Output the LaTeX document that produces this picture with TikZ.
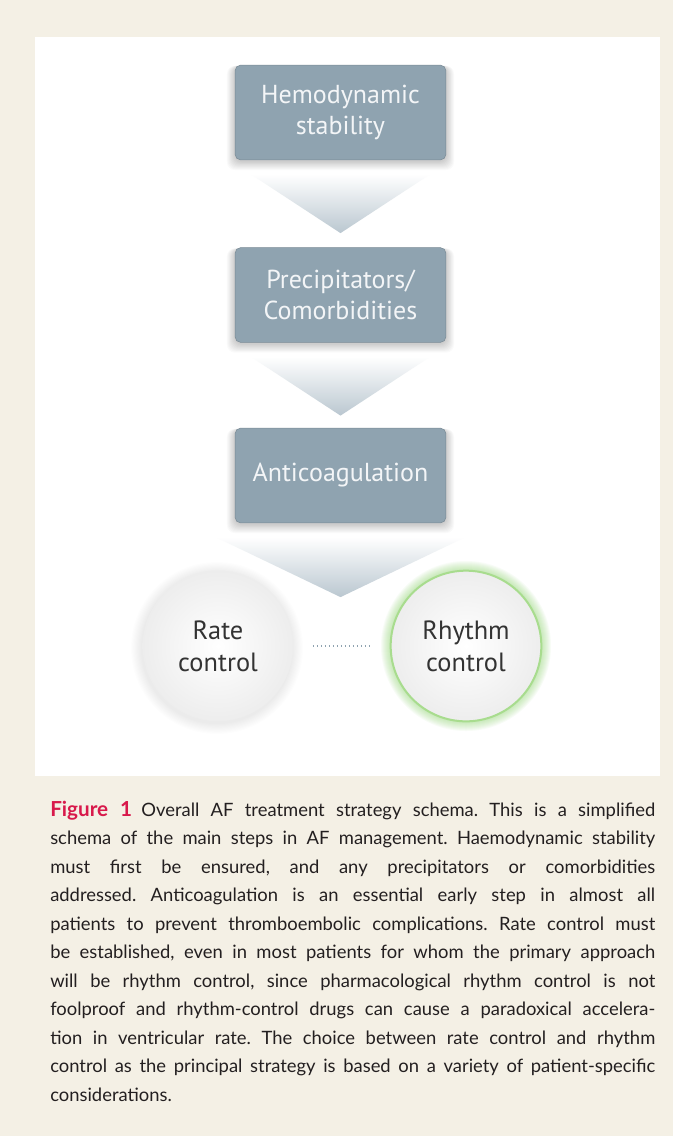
\documentclass[tikz,border=0pt]{standalone}
\usepackage{fontspec}
\setmainfont{Lato}
\newfontfamily\diagfont{PT Sans}
\usetikzlibrary{calc,shapes.geometric}
\definecolor{pagebg}{HTML}{F4F0E5}
\definecolor{boxc}{HTML}{8FA3B0}
\definecolor{boxtxt}{HTML}{F3F5F7}
\definecolor{trib}{HTML}{BAC7D0}
\definecolor{circtxt}{HTML}{333333}
\definecolor{glow}{HTML}{7FD05A}
\definecolor{ringc}{HTML}{A8DC8E}
\definecolor{dotc}{HTML}{8FA3B0}
\definecolor{figred}{HTML}{D8194B}
\definecolor{captxt}{HTML}{231F20}
\pgfdeclarelayer{bgl}
\pgfdeclarelayer{shd}
\pgfsetlayers{bgl,shd,main}
\tikzset{
  stepbox/.style={draw=boxc!85!black, line width=0.4pt, fill=boxc, rounded corners=4pt,
    minimum width=158pt, minimum height=71pt, inner sep=0pt, align=center,
    text=boxtxt, font=\diagfont\fontsize{19.5}{23.5}\selectfont},
  choice/.style={circle, minimum size=113pt, inner sep=0pt, align=center,
    text=circtxt, font=\diagfont\fontsize{19.8}{24}\selectfont,
    shading=radial, inner color=white, outer color=black!7},
  tri/.style={top color=white, bottom color=trib},
}
\begin{document}
\begin{tikzpicture}[x=0.75pt,y=-0.75pt]
\begin{pgfonlayer}{bgl}
\fill[pagebg] (0,0) rectangle (673,1136);
\fill[white] (35,37) rectangle (660,776);
\end{pgfonlayer}
\useasboundingbox (0,0) rectangle (673,1136);

% boxes
\node[stepbox] (b1) at (340.5,112.5) {Hemodynamic\\stability};
\node[stepbox] (b2) at (340.5,295) {Precipitators/\\Comorbidities};
\node[stepbox] (b3) at (340.5,475.5) {Anticoagulation};

% circles
\node[choice] (rate) at (218,646) {Rate\\control};
\node[choice, draw=ringc, line width=1.5pt] (rhythm) at (466,646) {Rhythm\\control};

% dotted link
\draw[dotc, dotted, line width=1pt, shorten <=14.5pt, shorten >=14.5pt] (rate) -- (rhythm);

\begin{pgfonlayer}{shd}
  % box shadows
  \foreach \n in {b1,b2,b3}{
    \foreach \k in {1,...,10}{
      \fill[black, opacity=0.018, rounded corners=6pt]
        ($(\n.south west)+(-0.8*\k,1+0.9*\k)$) rectangle ($(\n.north east)+(0.8*\k,1)$);
    }
  }
  % arrows (triangles)
  \shade[tri] ($(b1.south)+(-90,14)$) -- ($(b1.south)+(90,14)$) -- ($(b1.south)+(0,73)$) -- cycle;
  \shade[tri] ($(b2.south)+(-90,14)$) -- ($(b2.south)+(90,14)$) -- ($(b2.south)+(0,73)$) -- cycle;
  \shade[tri] ($(b3.south)+(-125,14)$) -- ($(b3.south)+(125,14)$) -- ($(b3.south)+(0,74)$) -- cycle;
  % circle shadow
  \foreach \k in {1,...,10}{
    \fill[black, opacity=0.008] ($(rate.center)+(-1,2)$) circle ({(75+1.1*\k)*0.75pt});
  }
  % green glow
  \foreach \k in {1,...,9}{
    \fill[glow, opacity=0.05] (rhythm.center) circle ({(76+1.0*\k)*0.75pt});
  }
\end{pgfonlayer}

% caption
\node[anchor=base west, inner sep=0pt, text width=453.75pt, align=justify,
  font=\frenchspacing\fontsize{13.8}{21.4}\selectfont, text=captxt] (cap) at (50,816)
{{\color{figred}\bfseries\fontsize{15.5}{21.4}\selectfont Figure 1}\hspace{0.5em}Overall AF treatment strategy schema. This is a simplified\linebreak
schema of the main steps in AF management. Haemodynamic stability\linebreak
must first be ensured, and any precipitators or comorbidities\linebreak
addressed. Anticoagulation is an essential early step in almost all\linebreak
patients to prevent thromboembolic complications. Rate control must\linebreak
be established, even in most patients for whom the primary approach\linebreak
will be rhythm control, since pharmacological rhythm control is not\linebreak
foolproof and rhythm-control drugs can cause a paradoxical accelera-\linebreak
tion in ventricular rate. The choice between rate control and rhythm\linebreak
control as the principal strategy is based on a variety of patient-specific\linebreak
considerations.};
\end{tikzpicture}
\end{document}
